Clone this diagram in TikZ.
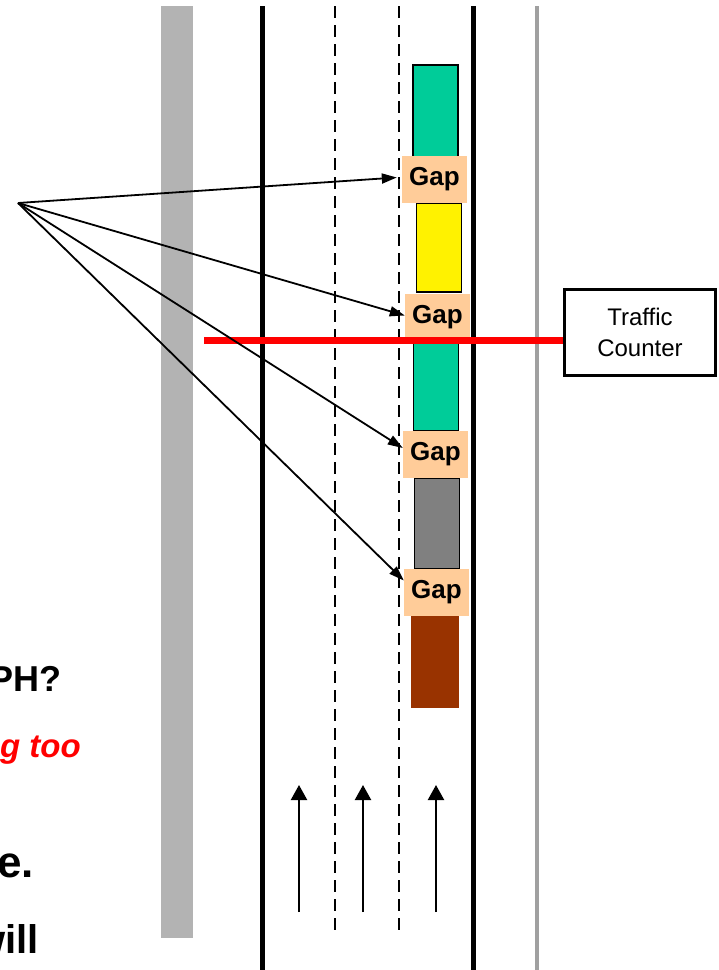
\documentclass[tikz,border=0pt]{standalone}
\usepackage{fontspec}
\setmainfont{Liberation Sans}
\usetikzlibrary{arrows.meta,positioning}
\definecolor{carteal}{HTML}{00CC99}
\definecolor{carbrown}{HTML}{993300}
\definecolor{gapfill}{HTML}{FFCC99}
\definecolor{shoulder}{HTML}{B3B3B3}
\definecolor{edgegray}{HTML}{A0A0A0}
\tikzset{
  car/.style={draw=black, line width=1.5pt, minimum width=45pt, inner sep=0pt},
  gapbox/.style={fill=gapfill, minimum width=65pt, minimum height=47pt, inner sep=0pt,
    font=\fontsize{26}{30}\selectfont\bfseries},
  pointer/.style={line width=1.8pt, -{Triangle[length=15pt,width=10pt]}},
  flow/.style={line width=2.2pt, -{Triangle[length=15pt,width=16pt]}},
  lefttext/.style={anchor=base east, inner sep=0pt}
}
\begin{document}
\begin{tikzpicture}[x=1pt,y=-1pt]
  \useasboundingbox (0,0) rectangle (719,970);
  \fill[shoulder] (161,6) rectangle (193,938);
  \draw[line width=5pt] (262,6) -- (262,970);
  \draw[line width=5pt] (473,6) -- (473,970);
  \draw[edgegray, line width=4pt] (537,6) -- (537,970);
  \draw[line width=1.5pt, dash pattern=on 12pt off 7pt] (335,6) -- (335,932);
  \draw[line width=1.5pt, dash pattern=on 12pt off 7pt] (399,6) -- (399,932);

  \node[car, fill=carteal, minimum height=95pt] (car1) at (435.5,112.5) {};
  \node[car, fill=yellow, minimum height=89pt] (car2) at (439,247.5) {};
  \node[car, fill=carteal, minimum height=92pt] (car3) at (436,385) {};
  \node[car, fill=gray, minimum height=91pt] (car4) at (437,523.5) {};
  \node[car, draw=carbrown, fill=carbrown, line width=0.5pt, minimum width=47pt, minimum height=91pt] (car5) at (434.5,661.5) {};

  \node[gapbox] (gap1) at (434.5,179.5) {Gap};
  \node[gapbox] (gap2) at (437.5,317.5) {Gap};
  \node[gapbox] (gap3) at (435.5,454) {Gap};
  \node[gapbox] (gap4) at (436.5,592.5) {Gap};

  \node[draw, line width=3pt, minimum width=151pt, minimum height=86pt, align=center,
    font=\fontsize{24}{31}\selectfont] (counter) at (640,332.5) {Traffic\\Counter};
  \coordinate (sensor) at (204,340);
  \draw[red, line width=7pt] (sensor) -- (sensor -| counter.west);

  \coordinate (src) at (18,203);
  \draw[pointer] (src) -- ([xshift=-5pt,yshift=2pt]gap1.west);
  \draw[pointer] (src) -- ([yshift=2pt]gap2.west);
  \draw[pointer] (src) -- ([yshift=6pt]gap3.west);
  \draw[pointer] (src) -- ([yshift=12pt]gap4.west);

  \foreach \lx in {299,363,436}
    \draw[flow] (\lx,912) -- (\lx,785);

  \node[lefttext, font=\fontsize{36}{40}\selectfont\bfseries] (q1) at (62,691) {PH?};
  \node[lefttext, red, font=\fontsize{33}{38}\selectfont\bfseries\itshape] (q2) at (81,757) {g too};
  \node[lefttext, font=\fontsize{44}{50}\selectfont\bfseries] (q3) at (34,877) {e.};
  \node[lefttext, font=\fontsize{40}{46}\selectfont\bfseries] (q4) at (39,953) {will};
\end{tikzpicture}
\end{document}
